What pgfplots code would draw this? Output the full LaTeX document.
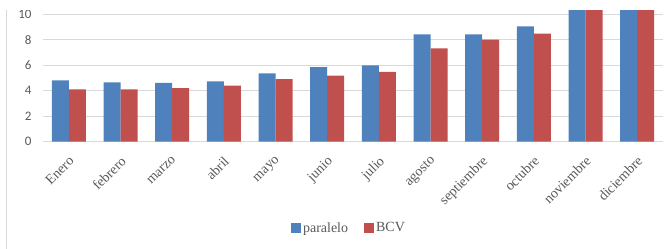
\documentclass[border=0pt]{standalone}
\usepackage{pgfplots}
\pgfplotsset{compat=1.18}
\usepackage{fontspec}
\setmainfont{Liberation Serif}
\newfontfamily\tickfont{Carlito}
\definecolor{cblue}{HTML}{4F81BD}
\definecolor{cred}{HTML}{C0504D}
\definecolor{txt}{HTML}{595959}
\definecolor{gridc}{HTML}{D9D9D9}
\begin{document}
\begin{tikzpicture}
\path[use as bounding box] (-43bp,-107.3bp) rectangle (627bp,141.7bp);
\clip (-43bp,-107.3bp) rectangle (627bp,130.7bp);
\draw[gridc, line width=1bp] (-36bp,-107.3bp) -- (-36bp,141.7bp);
\begin{axis}[
  scale only axis, width=620bp, height=130.7bp,
  ymin=0, ymax=10.26, xmin=-0.5, xmax=11.5,
  axis line style={draw=none}, tick style={draw=none},
  ymajorgrids, grid style={gridc, line width=1bp},
  ytick={0,2,...,10},
  /pgf/number format/assume math mode=true,
  yticklabel style={font=\tickfont\fontsize{13bp}{13bp}\selectfont, text=txt, xshift=-8bp},
  xtick=data,
  xticklabels={Enero,febrero,marzo,abril,mayo,junio,julio,agosto,septiembre,octubre,noviembre,diciembre},
  xticklabel style={rotate=45, anchor=north east, font=\fontsize{14bp}{14bp}\selectfont, text=txt, inner sep=2bp, yshift=-4bp, xshift=-5bp},
  ybar=0pt, bar width=17bp,
  legend style={at={(0.4935,-0.66)}, anchor=center, draw=none, legend columns=2,
    font=\fontsize{14bp}{14bp}\selectfont, text=txt,
    /tikz/every even column/.append style={column sep=14bp}},
  legend image code/.code={\fill[#1] (0bp,-5bp) rectangle (10bp,5bp);},
]
\addplot[fill=cblue, draw=none] coordinates {
 (0,4.82) (1,4.66) (2,4.61) (3,4.74) (4,5.37) (5,5.86) (6,6.00) (7,8.43) (8,8.43) (9,9.06) (10,12.0) (11,12.5)};
\addplot[fill=cred, draw=none] coordinates {
 (0,4.11) (1,4.11) (2,4.21) (3,4.40) (4,4.92) (5,5.18) (6,5.49) (7,7.33) (8,8.01) (9,8.48) (10,11.8) (11,12.2)};
\legend{paralelo,BCV}
\end{axis}
\end{tikzpicture}
\end{document}
